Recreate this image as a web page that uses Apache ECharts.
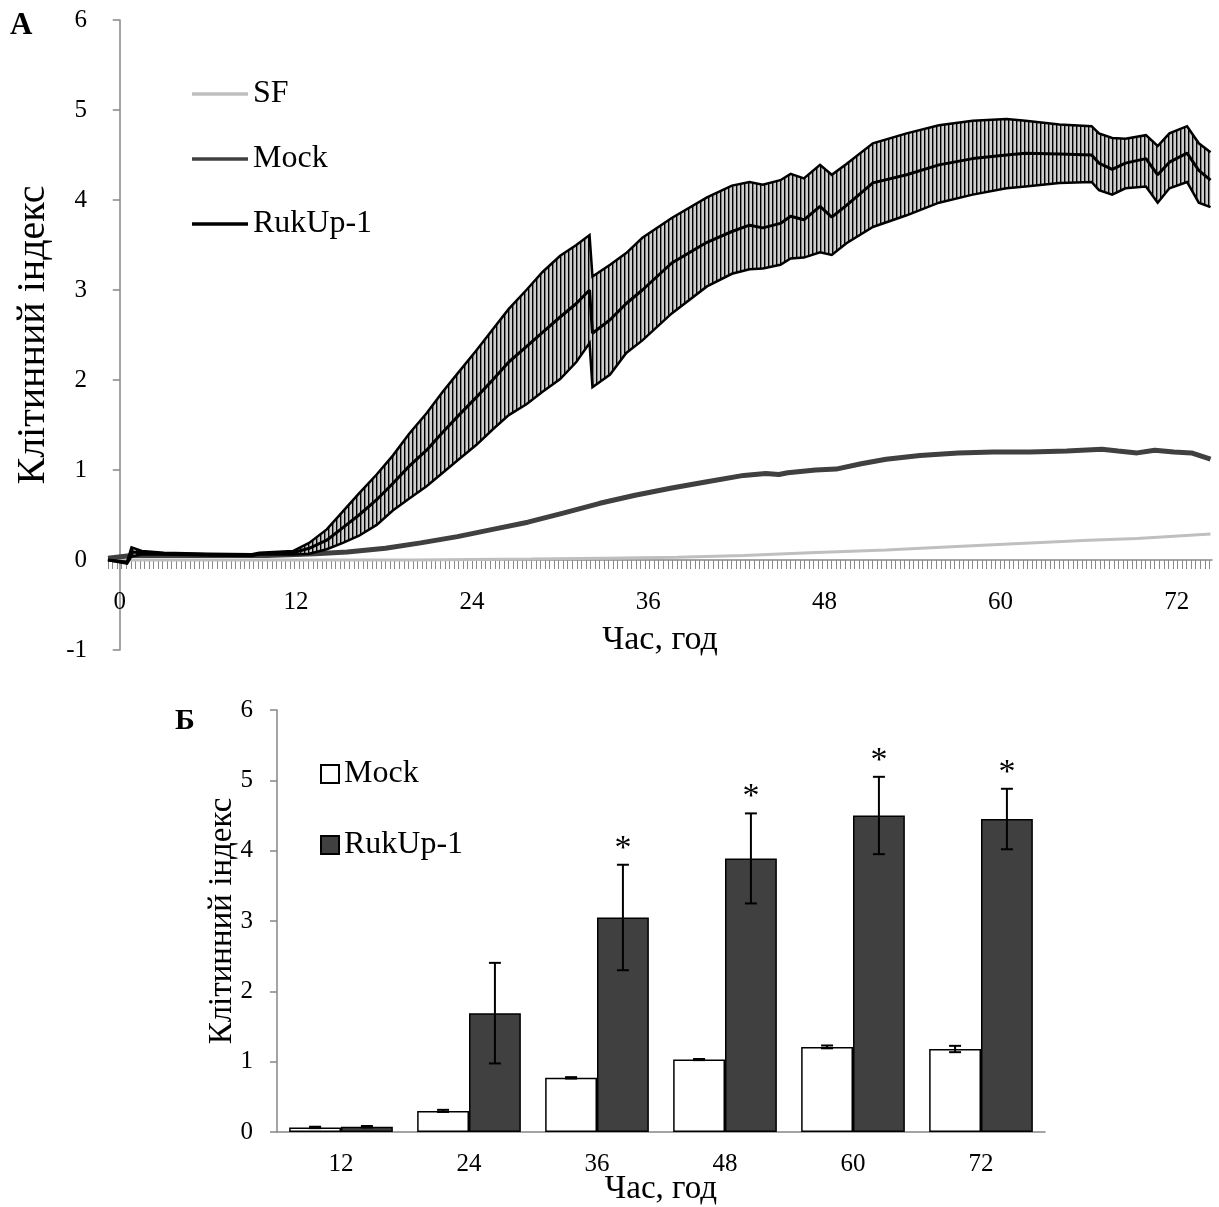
<!DOCTYPE html>
<html>
<head>
<meta charset="utf-8">
<script src="https://cdn.jsdelivr.net/npm/echarts@6/dist/echarts.min.js"></script>
<style>
body { margin: 0; background: #fff; }
#chartA { position: absolute; left: 0; top: 0; width: 1219px; height: 680px; }
#chartB { position: absolute; left: 0; top: 680px; width: 1219px; height: 527px; }
</style>
</head>
<body>
<div id="chartA"></div>
<div id="chartB"></div>
<script>
const FONT = "'Liberation Serif', 'Times New Roman', serif";

// ---- panel А : cell index vs time (h) ----
const hourTicks = [0, 12, 24, 36, 48, 60, 72];

const sfTime = [-0.8, 10, 20, 28, 33, 38, 42.5, 47, 52.2, 57, 62, 66, 69.3, 74.3];
const sfMean = [0.0, 0.0, 0.0, 0.01, 0.02, 0.03, 0.05, 0.08, 0.11, 0.15, 0.19, 0.22, 0.24, 0.29];

const mockTime = [-0.8, 0.8, 5, 10, 12, 13.3, 15.5, 18.1, 20.5, 23.0, 25.4, 27.8, 30.2, 32.7, 35.1, 37.6,
  40.0, 42.5, 44.0, 44.9, 45.5, 47.4, 48.8, 50.5, 52.2, 54.5, 57.1, 59.5, 62.0, 64.5, 66.9, 68.0,
  69.3, 70.5, 71.8, 73.0, 74.3];
const mockMean = [0.02, 0.05, 0.05, 0.05, 0.06, 0.07, 0.09, 0.13, 0.19, 0.26, 0.34, 0.42, 0.52, 0.63, 0.72, 0.80,
  0.87, 0.94, 0.96, 0.95, 0.97, 1.00, 1.01, 1.07, 1.12, 1.16, 1.19, 1.20, 1.20, 1.21, 1.23, 1.21,
  1.19, 1.22, 1.20, 1.19, 1.12];

const rukTime = [-0.8, 0.5, 0.8, 1.5, 3, 6, 9, 9.5, 11.8, 12.9, 14.1, 15.2, 16.3, 17.5, 18.6, 19.7,
  20.9, 22.0, 23.1, 24.3, 25.4, 26.5, 27.7, 28.8, 30.0, 31.1, 32.0, 32.2, 33.4, 34.5, 35.6, 37.6,
  40.0, 41.7, 42.9, 43.8, 45.0, 45.7, 46.6, 47.7, 48.5, 49.5, 51.3, 53.6, 55.8, 58.1, 60.4, 61.7,
  64.0, 66.2, 66.7, 67.6, 68.5, 69.9, 70.7, 71.5, 72.7, 73.5, 74.3];
const rukMean = [0.0, -0.03, 0.09, 0.08, 0.07, 0.06, 0.055, 0.07, 0.08, 0.13, 0.22, 0.36, 0.50, 0.67, 0.85, 1.04,
  1.22, 1.42, 1.61, 1.81, 2.00, 2.20, 2.37, 2.53, 2.70, 2.85, 3.00, 2.52, 2.67, 2.85, 3.00, 3.30,
  3.53, 3.65, 3.72, 3.69, 3.74, 3.82, 3.78, 3.93, 3.81, 3.94, 4.19, 4.28, 4.39, 4.46, 4.50, 4.52,
  4.51, 4.50, 4.41, 4.34, 4.41, 4.46, 4.28, 4.42, 4.52, 4.33, 4.22];
const rukLow = [0.0, -0.04, 0.04, 0.06, 0.06, 0.05, 0.045, 0.06, 0.06, 0.07, 0.12, 0.19, 0.27, 0.39, 0.55, 0.68,
  0.82, 0.97, 1.12, 1.28, 1.45, 1.61, 1.73, 1.87, 2.01, 2.20, 2.41, 1.92, 2.06, 2.30, 2.44, 2.74,
  3.04, 3.18, 3.23, 3.24, 3.28, 3.35, 3.36, 3.42, 3.39, 3.52, 3.70, 3.83, 3.97, 4.06, 4.13, 4.15,
  4.19, 4.20, 4.11, 4.06, 4.13, 4.15, 3.97, 4.13, 4.20, 3.97, 3.92];
const rukHigh = [0.0, -0.02, 0.14, 0.10, 0.08, 0.07, 0.065, 0.08, 0.10, 0.19, 0.34, 0.54, 0.74, 0.95, 1.16, 1.40,
  1.63, 1.87, 2.09, 2.33, 2.56, 2.79, 3.00, 3.20, 3.38, 3.50, 3.61, 3.15, 3.28, 3.41, 3.58, 3.80,
  4.03, 4.16, 4.20, 4.17, 4.22, 4.29, 4.24, 4.39, 4.28, 4.40, 4.63, 4.74, 4.83, 4.88, 4.90, 4.88,
  4.84, 4.82, 4.74, 4.69, 4.68, 4.72, 4.60, 4.74, 4.82, 4.63, 4.53];

// ---- panel Б : bars at fixed time points ----
const barHours = ['12', '24', '36', '48', '60', '72'];
const mockBar = [0.065, 0.30, 0.77, 1.03, 1.21, 1.18];
const mockErr = [0.01, 0.015, 0.01, 0.008, 0.02, 0.045];
const rukBar = [0.075, 1.69, 3.05, 3.89, 4.50, 4.45];
const rukErr = [0.01, 0.715, 0.75, 0.64, 0.55, 0.43];
const signif = ['', '', '*', '*', '*', '*'];

function pairs(xs, ys) {
  return xs.map((x, i) => [x, ys[i]]);
}

// dense category-like ticks under the time axis
const denseTicks = [];
for (let t = -0.8; t <= 74.4; t += 0.31) denseTicks.push(+t.toFixed(2));

// hatch used for the error band
const hatch = document.createElement('canvas');
hatch.width = 4;
hatch.height = 4;
const hctx = hatch.getContext('2d');
hctx.fillStyle = '#cdcdcd';
hctx.fillRect(0, 0, 4, 4);
hctx.fillStyle = '#000';
hctx.fillRect(0, 0, 1.4, 4);

function drawBand(params, api) {
  if (params.dataIndex !== 0) return null;
  const up = rukTime.map((t, i) => api.coord([t, rukHigh[i]]));
  const lo = rukTime.map((t, i) => api.coord([t, rukLow[i]]));
  const poly = up.concat(lo.slice().reverse());
  return {
    type: 'group',
    children: [
      { type: 'polygon', shape: { points: poly }, style: { fill: { image: hatch, repeat: 'repeat' } } },
      { type: 'polyline', shape: { points: up }, style: { stroke: '#000', lineWidth: 2.5, fill: null } },
      { type: 'polyline', shape: { points: lo }, style: { stroke: '#000', lineWidth: 2.5, fill: null } }
    ]
  };
}

const chartA = echarts.init(document.getElementById('chartA'));
const optionA = {
  animation: false,
  textStyle: { fontFamily: FONT, color: '#000' },
  grid: { left: 108, top: 20, width: 1104, height: 630, outerBoundsMode: 'none', containLabel: false },
  legend: {
    orient: 'vertical',
    left: 192,
    top: 78,
    padding: 0,
    icon: 'rect',
    itemWidth: 56,
    itemHeight: 3.5,
    itemGap: 33,
    data: ['SF', 'Mock', 'RukUp-1'],
    textStyle: { fontSize: 32, fontFamily: FONT, color: '#000' }
  },
  graphic: [
    { type: 'text', left: 10, top: 10, style: { text: 'А', font: 'bold 31px ' + FONT, fill: '#000' } }
  ],
  xAxis: {
    type: 'value',
    min: -0.8,
    max: 74.4,
    axisLine: { onZero: true, lineStyle: { color: '#868686', width: 1.5 } },
    axisTick: { show: true, customValues: denseTicks, length: 9, lineStyle: { color: '#8a8a8a', width: 1 } },
    // labels and name are laid out from the grid bottom (value -1), so pull them up to sit under 0
    axisLabel: { customValues: hourTicks, fontSize: 25, margin: -60, color: '#000', fontFamily: FONT },
    splitLine: { show: false },
    name: 'Час, год',
    nameLocation: 'middle',
    nameGap: -27,
    nameMoveOverlap: false,
    nameTextStyle: { fontSize: 34, fontFamily: FONT, color: '#000' }
  },
  yAxis: {
    type: 'value',
    min: -1,
    max: 6,
    interval: 1,
    axisLine: { show: true, lineStyle: { color: '#868686', width: 1.5 } },
    axisTick: { show: true, length: 7, lineStyle: { color: '#868686', width: 1.5 } },
    axisLabel: { fontSize: 25, margin: 21, color: '#000', fontFamily: FONT },
    splitLine: { show: false },
    name: 'Клітинний індекс',
    nameLocation: 'middle',
    nameGap: 55,
    nameMoveOverlap: false,
    nameTextStyle: { fontSize: 40, fontFamily: FONT, color: '#000' }
  },
  series: [
    {
      name: 'SF', type: 'line', data: pairs(sfTime, sfMean), symbol: 'none', z: 2,
      lineStyle: { color: '#bfbfbf', width: 3 }, itemStyle: { color: '#bfbfbf' }
    },
    {
      name: 'Mock', type: 'line', data: pairs(mockTime, mockMean), symbol: 'none', z: 3,
      lineStyle: { color: '#404040', width: 5 }, itemStyle: { color: '#404040' }
    },
    {
      name: 'RukUp-1 SD', type: 'custom', renderItem: drawBand, data: [[0, 0]], z: 4, silent: true
    },
    {
      name: 'RukUp-1', type: 'line', data: pairs(rukTime, rukMean), symbol: 'none', z: 5,
      lineStyle: { color: '#000', width: 3 }, itemStyle: { color: '#000' }
    }
  ]
};
chartA.setOption(optionA);

// error bars for the grouped bars, side -1 = Mock, +1 = RukUp-1
function barErrors(side, withStars) {
  return function (params, api) {
    const i = api.value(0);
    const band = api.size([1, 0])[0];
    const barW = band * (1 - 0.19) / 2;
    const x = api.coord([i, 0])[0] + side * barW / 2;
    const top = api.coord([i, api.value(2)])[1];
    const bot = api.coord([i, api.value(1)])[1];
    const cap = 6;
    const st = { stroke: '#000', lineWidth: 2 };
    const children = [
      { type: 'line', shape: { x1: x, y1: top, x2: x, y2: bot }, style: st },
      { type: 'line', shape: { x1: x - cap, y1: top, x2: x + cap, y2: top }, style: st },
      { type: 'line', shape: { x1: x - cap, y1: bot, x2: x + cap, y2: bot }, style: st }
    ];
    if (withStars && signif[i]) {
      children.push({
        type: 'text',
        style: {
          text: signif[i], x: x, y: top - 16, align: 'center', verticalAlign: 'middle',
          font: '34px ' + FONT, fill: '#000'
        }
      });
    }
    return { type: 'group', children: children };
  };
}

const chartB = echarts.init(document.getElementById('chartB'));
const optionB = {
  animation: false,
  textStyle: { fontFamily: FONT, color: '#000' },
  grid: { left: 277, top: 30, width: 768, height: 422, outerBoundsMode: 'none', containLabel: false },
  legend: {
    orient: 'vertical',
    left: 320,
    top: 78,
    padding: 0,
    itemWidth: 18,
    itemHeight: 18,
    itemGap: 39,
    icon: 'rect',
    data: ['Mock', 'RukUp-1'],
    textStyle: { fontSize: 32, fontFamily: FONT, color: '#000' }
  },
  graphic: [
    { type: 'text', left: 175, top: 26, style: { text: 'Б', font: 'bold 30px ' + FONT, fill: '#000' } }
  ],
  xAxis: {
    type: 'category',
    data: barHours,
    axisLine: { lineStyle: { color: '#868686', width: 1.5 } },
    axisTick: { length: 8, lineStyle: { color: '#868686', width: 1.5 } },
    axisLabel: { fontSize: 25, margin: 20, color: '#000', fontFamily: FONT },
    name: 'Час, год',
    nameLocation: 'middle',
    nameGap: 41,
    nameMoveOverlap: false,
    nameTextStyle: { fontSize: 33, fontFamily: FONT, color: '#000' }
  },
  yAxis: {
    type: 'value',
    min: 0,
    max: 6,
    interval: 1,
    axisLine: { show: true, lineStyle: { color: '#868686', width: 1.5 } },
    axisTick: { show: true, length: 7, lineStyle: { color: '#868686', width: 1.5 } },
    axisLabel: { fontSize: 25, margin: 24, color: '#000', fontFamily: FONT },
    splitLine: { show: false },
    name: 'Клітинний індекс',
    nameLocation: 'middle',
    nameGap: 38,
    nameMoveOverlap: false,
    nameTextStyle: { fontSize: 33, fontFamily: FONT, color: '#000' }
  },
  series: [
    {
      name: 'Mock', type: 'bar', data: mockBar, barGap: '0%', barCategoryGap: '19%',
      itemStyle: { color: '#ffffff', borderColor: '#000', borderWidth: 1.5 }
    },
    {
      name: 'RukUp-1', type: 'bar', data: rukBar,
      itemStyle: { color: '#404040', borderColor: '#000', borderWidth: 1.5 }
    },
    {
      name: 'Mock SD', type: 'custom', renderItem: barErrors(-1, false), z: 5,
      data: barHours.map((h, i) => [i, mockBar[i] - mockErr[i], mockBar[i] + mockErr[i]])
    },
    {
      name: 'RukUp-1 SD', type: 'custom', renderItem: barErrors(1, true), z: 5,
      data: barHours.map((h, i) => [i, rukBar[i] - rukErr[i], rukBar[i] + rukErr[i]])
    }
  ]
};
chartB.setOption(optionB);
</script>
</body>
</html>
